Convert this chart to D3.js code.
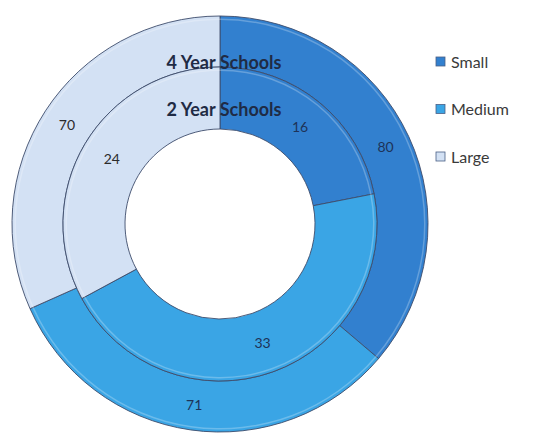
<!DOCTYPE html>
<html>
<head>
<meta charset="utf-8">
<script src="https://cdn.jsdelivr.net/npm/d3@7"></script>
<style>
  body { margin: 0; background: #fff; }
  svg { display: block; }
</style>
</head>
<body>
<div id="chart"></div>
<script>
var width = 546,
    height = 433;

// data
var categories = ["Small", "Medium", "Large"];
var fourYear = [80, 71, 70];
var twoYear = [16, 33, 24];
var ringNames = ["4 Year Schools", "2 Year Schools"];
var colors = ["#3280cf", "#3aa5e5", "#d3e1f4"];

var svg = d3.select("#chart")
    .append("svg")
    .attr("width", width)
    .attr("height", height);

var cx = 220, cy = 224;
var g = svg.append("g")
    .attr("transform", "translate(" + cx + "," + cy + ")");

var color = d3.scaleOrdinal()
    .domain(categories)
    .range(colors);

var pie = d3.pie()
    .sort(null)
    .value(function (d) { return d.value; });

function toRows(values) {
    return values.map(function (v, i) {
        return { cat: categories[i], value: v };
    });
}

var rings = [
    { name: ringNames[0], data: toRows(fourYear), inner: 157, outer: 208 },
    { name: ringNames[1], data: toRows(twoYear), inner: 95, outer: 157 }
];

rings.forEach(function (ring) {
    var arc = d3.arc()
        .innerRadius(ring.inner)
        .outerRadius(ring.outer);

    var slices = pie(ring.data);

    g.append("g")
        .selectAll("path")
        .data(slices)
        .enter().append("path")
        .attr("d", arc)
        .style("fill", function (d) { return color(d.data.cat); })
        .style("stroke", "#3d4c6b")
        .style("stroke-width", 0.9);

    // thin light highlight just inside each ring edge
    var hl = d3.arc()
        .innerRadius(ring.outer - 4)
        .outerRadius(ring.outer - 2.5);
    g.append("g")
        .selectAll("path")
        .data(slices)
        .enter().append("path")
        .attr("d", hl)
        .style("fill", "#ffffff")
        .style("opacity", 0.25);

    g.append("g")
        .selectAll("text")
        .data(slices)
        .enter().append("text")
        .attr("x", function (d) { return arc.centroid(d)[0]; })
        .attr("y", function (d) { return arc.centroid(d)[1] + 5; })
        .attr("text-anchor", "middle")
        .style("font-family", "Lato, 'Open Sans', sans-serif")
        .style("font-size", "14px")
        .style("fill", function (d) { return d.data.cat === "Large" ? "#2b2b2b" : "#1e3358"; })
        .text(function (d) { return d.data.value; });
});

// ring titles, sitting near the top of each ring
g.append("g")
    .selectAll("text")
    .data(rings)
    .enter().append("text")
    .attr("x", 4)
    .attr("y", function (d, i) { return -d.outer + (i === 0 ? 53 : 49); })
    .attr("text-anchor", "middle")
    .style("font-family", "Lato, 'Open Sans', sans-serif")
    .style("font-weight", "bold")
    .style("font-size", "18px")
    .style("fill", "#1f2b45")
    .text(function (d) { return d.name; });

// legend
var legend = svg.append("g")
    .attr("transform", "translate(436,0)");

var items = legend.selectAll("g")
    .data(categories)
    .enter().append("g")
    .attr("transform", function (d, i) { return "translate(0," + (62 + i * 47.5) + ")"; });

items.append("rect")
    .attr("x", 0)
    .attr("y", -5)
    .attr("width", 9)
    .attr("height", 9)
    .style("fill", function (d) { return color(d); })
    .style("stroke", "#4a5f86")
    .style("stroke-width", 0.8);

items.append("text")
    .attr("x", 15)
    .attr("y", 5.5)
    .style("font-family", "Lato, 'Open Sans', sans-serif")
    .style("font-size", "16px")
    .style("fill", "#3a3a3a")
    .text(function (d) { return d; });
</script>
</body>
</html>
